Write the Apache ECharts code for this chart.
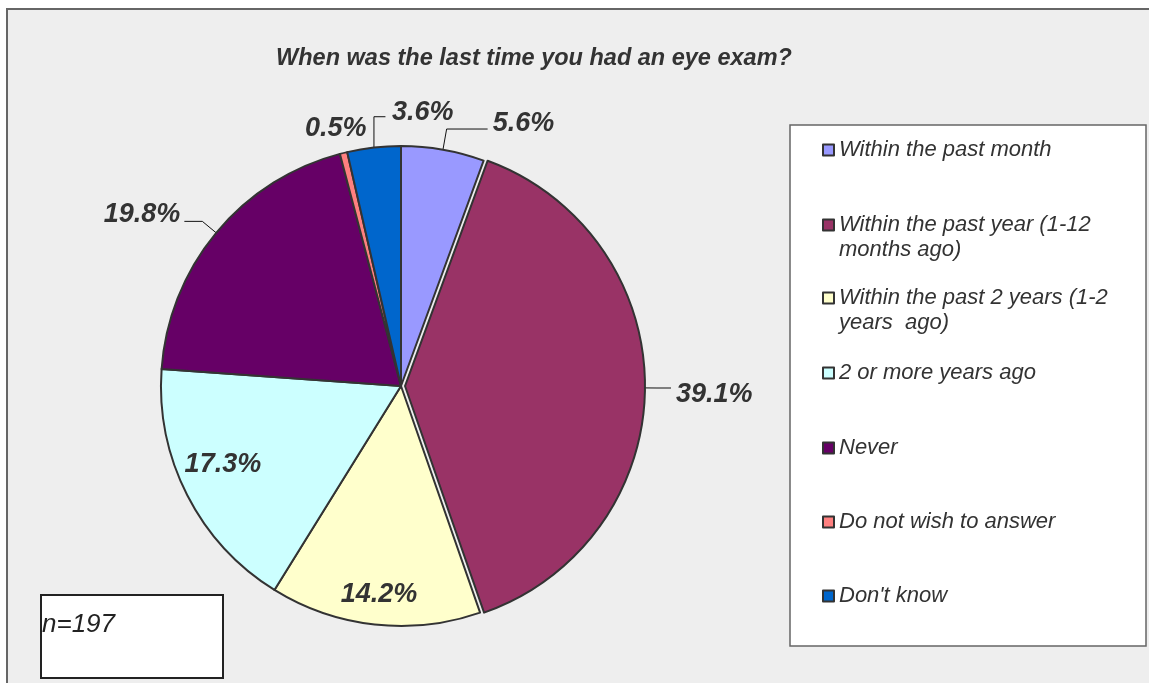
<!DOCTYPE html>
<html>
<head>
<meta charset="utf-8">
<title>When was the last time you had an eye exam?</title>
<script src="https://cdn.jsdelivr.net/npm/echarts@6/dist/echarts.min.js"></script>
<style>
  html, body { margin: 0; padding: 0; background: #fff; }
  #chart { width: 1149px; height: 683px; }
</style>
</head>
<body>
<div id="chart"></div>
<script>
// slices, clockwise from 12 o'clock
var answers = ['Within the past month', 'Within the past year (1-12 months ago)', 'Within the past 2 years (1-2 years  ago)', '2 or more years ago', 'Never', 'Do not wish to answer', "Don't know"];
// legend wording as wrapped in the legend box
var legendText = ['Within the past month', 'Within the past year (1-12\nmonths ago)', 'Within the past 2 years (1-2\nyears  ago)', '2 or more years ago', 'Never', 'Do not wish to answer', "Don't know"];
var percents = [5.6, 39.1, 14.2, 17.3, 19.8, 0.5, 3.6];
var colors = ['#9999ff', '#993366', '#ffffcc', '#ccffff', '#660066', '#ff8080', '#0066cc'];
var sampleSize = 197;

var font = '"Liberation Sans", Arial, sans-serif';
var inside = [false, false, true, true, false, false, false];
// leader line tweaks for the outside labels (nudge > 0 moves text down, < 0 up)
var labelTweak = {
    0: { length: 21, length2: 41, dist: 5, nudge: -5 },
    1: { length: 12, length2: 14, dist: 5, nudge: 7 },
    2: { nudge: 10 },
    3: { nudge: -12 },
    4: { length: 18, length2: 18, dist: 4, nudge: -7 },
    5: { length: 25, length2: 0, dist: -29, nudge: 0, noLine: true },
    6: { length: 31, length2: -15, dist: -68, nudge: -4 }
};
var legendRowY = [150, 225, 298, 373, 448, 522, 596];

var chart = echarts.init(document.getElementById('chart'));

var labelFont = {
    fontSize: 27,
    fontWeight: 'bold',
    fontStyle: 'italic',
    fontFamily: font,
    color: '#333'
};
// an empty line before/after the value shifts it by half a line height
function nudged(i) {
    var n = (labelTweak[i] || {}).nudge || 0;
    return function (p) {
        var s = p.value.toFixed(1) + '%';
        if (n > 0) return '\n' + s;
        if (n < 0) return s + '\n';
        return s;
    };
}
function nudgeLH(i) {
    var n = (labelTweak[i] || {}).nudge || 0;
    return n ? Math.abs(n) * 2 : undefined;
}

var mainData = answers.map(function (name, i) {
    var item = { name: name, value: percents[i], itemStyle: { color: colors[i] } };
    if (i == 1) item.selected = true;
    var o = labelTweak[i];
    if (!inside[i]) {
        item.label = { show: true, distanceToLabelLine: o.dist, formatter: nudged(i), lineHeight: nudgeLH(i) };
        item.labelLine = { show: !o.noLine, length: o.length, length2: o.length2 };
    } else {
        item.label = { show: false };
        item.labelLine = { show: false };
    }
    return item;
});

var overlayData = answers.map(function (name, i) {
    return {
        name: name,
        value: percents[i],
        label: { show: inside[i], formatter: nudged(i), lineHeight: nudgeLH(i) }
    };
});

var legends = answers.map(function (name, i) {
    var twoLine = legendText[i].indexOf('\n') >= 0;
    return {
        data: [name],
        orient: 'vertical',
        left: 817,
        top: legendRowY[i] - 5 - (twoLine ? 37.5 : 12.5),
        icon: 'rect',
        itemWidth: 11,
        itemHeight: 11,
        selectedMode: false,
        z: 6,
        // a blank first line keeps the marker level with the first text line
        formatter: function () { return twoLine ? '\n' + legendText[i] : legendText[i]; },
        itemStyle: { borderColor: '#333', borderWidth: 2 },
        textStyle: {
            fontSize: 22,
            fontStyle: 'italic',
            fontFamily: font,
            color: '#333',
            lineHeight: 25
        }
    };
});

var option = {
    animation: false,
    backgroundColor: '#fff',
    title: {
        text: 'When was the last time you had an eye exam?',
        left: 529,
        top: 42,
        textAlign: 'center',
        textStyle: {
            fontSize: 23.5,
            fontWeight: 'bold',
            fontStyle: 'italic',
            fontFamily: font,
            color: '#333'
        }
    },
    legend: legends,
    graphic: [
        { type: 'rect', z: -10, shape: { x: 7, y: 9, width: 1200, height: 700 }, style: { fill: '#eeeeee', stroke: '#666', lineWidth: 2 } },
        { type: 'rect', z: -9, shape: { x: 790, y: 125, width: 356, height: 521 }, style: { fill: '#fff', stroke: '#666', lineWidth: 1.5 } },
        { type: 'rect', z: -9, shape: { x: 41, y: 595, width: 182, height: 83 }, style: { fill: '#fff', stroke: '#222', lineWidth: 2 } },
        { type: 'text', z: -8, x: 42, y: 625, style: { text: 'n=' + sampleSize, fontSize: 26, fontStyle: 'italic', fontFamily: font, fill: '#222', verticalAlign: 'middle' } }
    ],
    series: [
        {
            name: 'Eye exam',
            type: 'pie',
            z: 5,
            center: [401, 386],
            radius: 240,
            startAngle: 90,
            selectedMode: 'single',
            selectedOffset: 4,
            avoidLabelOverlap: false,
            itemStyle: { borderColor: '#333', borderWidth: 2 },
            label: Object.assign({ position: 'outside' }, labelFont),
            labelLine: { lineStyle: { color: '#111', width: 1 } },
            emphasis: { disabled: true },
            data: mainData
        },
        {
            // transparent ring, only used to put the inside labels further out
            name: 'inside labels',
            type: 'pie',
            z: 6,
            silent: true,
            legendHoverLink: false,
            center: [401, 386],
            radius: [154, 240],
            startAngle: 90,
            avoidLabelOverlap: false,
            itemStyle: { color: 'rgba(0,0,0,0)', borderWidth: 0 },
            label: Object.assign({ position: 'inside' }, labelFont),
            labelLine: { show: false },
            emphasis: { disabled: true },
            data: overlayData
        }
    ]
};

chart.setOption(option);
</script>
</body>
</html>
